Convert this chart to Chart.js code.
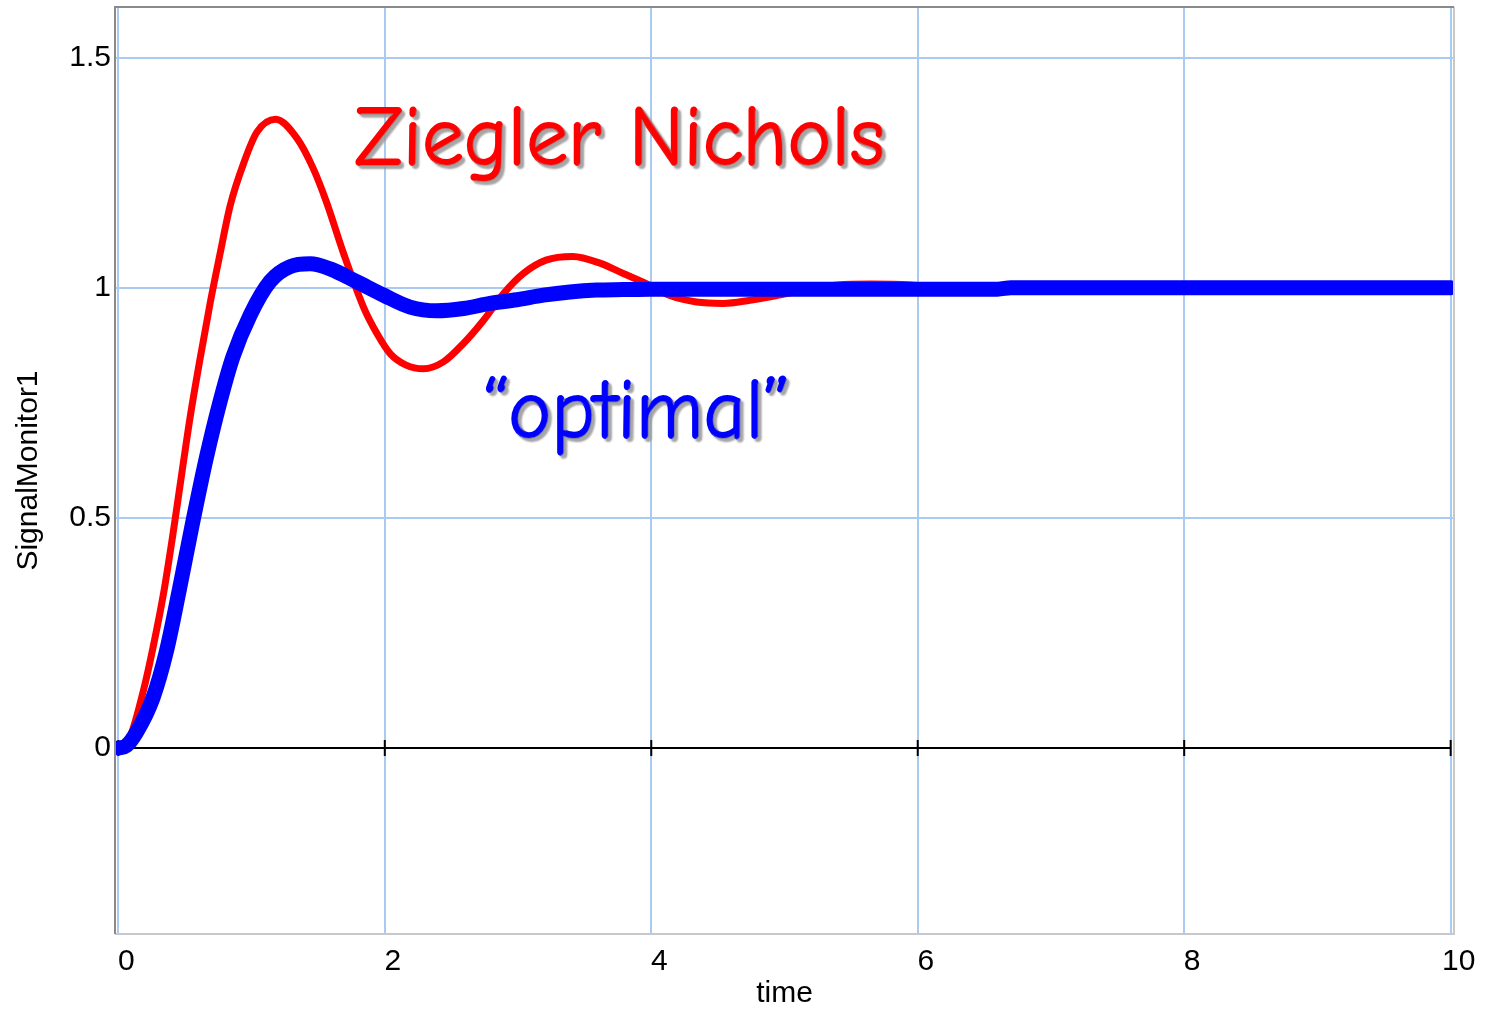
<!DOCTYPE html>
<html>
<head>
<meta charset="utf-8">
<title>Step response</title>
<script src="https://cdn.jsdelivr.net/npm/chart.js@4.4.1/dist/chart.umd.min.js"></script>
<style>
  html, body { margin: 0; padding: 0; background: #fff; }
  #wrap { width: 1492px; height: 1009px; position: relative; }
</style>
</head>
<body>
<div id="wrap"><canvas id="respCanvas"></canvas></div>
<script>
// ============================================
// PID tuning — closed-loop step response
// ============================================

// ── Ziegler–Nichols tuned loop ── //
const znTime = [0, 0.09, 0.19, 0.26, 0.34, 0.41, 0.47, 0.54, 0.61, 0.69, 0.76, 0.84, 0.94, 1.04,
  1.18, 1.34, 1.46, 1.56, 1.69, 1.84, 1.94, 2.04, 2.16, 2.29, 2.44, 2.59, 2.74, 2.89, 3.04,
  3.21, 3.41, 3.62, 3.79, 3.97, 4.14, 4.34, 4.54, 4.74, 4.94, 5.15, 5.40, 5.65, 5.95, 6.2,
  7, 8, 9, 10];
const znValue = [0, 0.026, 0.127, 0.218, 0.337, 0.465, 0.584, 0.721, 0.840, 0.968, 1.069, 1.179, 1.270, 1.338,
  1.366, 1.325, 1.261, 1.188, 1.075, 0.958, 0.901, 0.857, 0.832, 0.824, 0.839, 0.879, 0.929, 0.987, 1.031,
  1.060, 1.068, 1.053, 1.031, 1.008, 0.983, 0.969, 0.966, 0.973, 0.983, 0.995, 1.006, 1.008, 1.006, 1.0,
  1.0, 1.0, 1.0, 1.0];

// ── "optimal" tuned loop ── //
const optTime = [0, 0.06, 0.14, 0.26, 0.36, 0.46, 0.56, 0.66, 0.76, 0.86, 0.99, 1.14, 1.29, 1.44,
  1.59, 1.79, 1.99, 2.19, 2.39, 2.59, 2.79, 2.99, 3.19, 3.39, 3.59, 3.79, 3.99, 4.5, 5, 6,
  6.6, 6.7, 8, 10];
const optValue = [0, 0.005, 0.036, 0.109, 0.209, 0.347, 0.493, 0.630, 0.749, 0.850, 0.941, 1.014, 1.046, 1.052,
  1.041, 1.013, 0.984, 0.958, 0.950, 0.955, 0.966, 0.974, 0.984, 0.991, 0.995, 0.996, 0.997, 0.997, 0.997, 0.997,
  0.997, 1.0, 1.0, 1.0];

const xTicks = [0, 2, 4, 6, 8, 10];
const yTicks = [0, 0.5, 1, 1.5];

const znCaption = 'Ziegler Nichols';
const optCaption = '\u201Coptimal\u201D';

// ── Styles ── //
const GRID_BLUE = '#a9cbf2';
const AXIS_FONT = { family: "'Liberation Sans', Arial, sans-serif", size: 30 };
const HAND_FONT = "84px 'Comic Sans MS', 'Comic Neue', 'DejaVu Sans', sans-serif";

function toPoints(xs, ys) {
  return xs.map((x, i) => ({ x: x, y: ys[i] }));
}

// zero line with small tick marks, under the curves
const zeroLine = {
  id: 'zeroLine',
  beforeDatasetsDraw(chart) {
    const { ctx, scales: { x, y } } = chart;
    const y0 = y.getPixelForValue(0);
    ctx.save();
    ctx.strokeStyle = '#000';
    ctx.lineWidth = 2;
    ctx.beginPath();
    ctx.moveTo(x.getPixelForValue(xTicks[0]), y0);
    ctx.lineTo(x.getPixelForValue(xTicks[xTicks.length - 1]), y0);
    xTicks.forEach(v => {
      const px = x.getPixelForValue(v);
      ctx.moveTo(px, y0 - 8);
      ctx.lineTo(px, y0 + 8);
    });
    ctx.stroke();
    ctx.restore();
  }
};

// sunken frame round the plot area
const plotFrame = {
  id: 'plotFrame',
  afterDraw(chart) {
    const { ctx, chartArea: a } = chart;
    ctx.save();
    ctx.lineWidth = 2;
    ctx.strokeStyle = '#c8c8c8';
    ctx.beginPath();
    ctx.moveTo(a.left, a.bottom);
    ctx.lineTo(a.right, a.bottom);
    ctx.lineTo(a.right, a.top);
    ctx.stroke();
    ctx.strokeStyle = '#8a8a8a';
    ctx.beginPath();
    ctx.moveTo(a.left, a.bottom);
    ctx.lineTo(a.left, a.top);
    ctx.lineTo(a.right, a.top);
    ctx.stroke();
    ctx.restore();
  }
};

// hand-lettered captions next to each curve
const captions = {
  id: 'captions',
  afterDatasetsDraw(chart) {
    const { ctx, scales: { x, y } } = chart;
    const items = [
      { text: znCaption, t: 1.775, v: 1.266, width: 530, color: '#ff0000' },
      { text: optCaption, t: 2.74, v: 0.673, width: 307, color: '#0000ff' },
    ];
    ctx.save();
    ctx.font = HAND_FONT;
    ctx.textAlign = 'left';
    ctx.textBaseline = 'alphabetic';
    ctx.lineJoin = 'round';
    ctx.lineWidth = 2;
    ctx.shadowColor = 'rgba(150, 150, 150, 0.85)';
    ctx.shadowOffsetX = 3;
    ctx.shadowOffsetY = 3;
    ctx.shadowBlur = 2;
    items.forEach(it => {
      const px = x.getPixelForValue(it.t);
      const py = y.getPixelForValue(it.v);
      ctx.fillStyle = it.color;
      ctx.strokeStyle = it.color;
      ctx.strokeText(it.text, px, py, it.width);
      ctx.fillText(it.text, px, py, it.width);
    });
    ctx.restore();
  }
};

// drop the half-label padding chart.js reserves at the axis ends
function fixAxis(size) {
  return s => {
    if (s.isHorizontal()) {
      s.height = size;
      s.paddingLeft = 0;
      s.paddingRight = 0;
    } else {
      s.width = size;
      s.paddingTop = 0;
      s.paddingBottom = 0;
    }
  };
}

const respChart = new Chart(document.getElementById('respCanvas'), {
  type: 'line',
  data: {
    datasets: [
      {
        label: 'optimal',
        data: toPoints(optTime, optValue),
        borderColor: '#0000ff',
        borderWidth: 15,
      },
      {
        label: 'Ziegler Nichols',
        data: toPoints(znTime, znValue),
        borderColor: '#ff0000',
        borderWidth: 7,
      },
    ],
  },
  options: {
    responsive: true,
    maintainAspectRatio: false,
    animation: false,
    layout: { padding: { top: 7, right: 38, left: 0, bottom: 0 } },
    elements: {
      point: { radius: 0 },
      line: {
        cubicInterpolationMode: 'monotone',
        borderCapStyle: 'round',
        borderJoinStyle: 'round',
        fill: false,
      },
    },
    scales: {
      x: {
        type: 'linear',
        min: -0.025,
        max: 10.025,
        afterBuildTicks: s => { s.ticks = xTicks.map(v => ({ value: v })); },
        afterFit: fixAxis(75),
        grid: { color: GRID_BLUE, lineWidth: 2, drawTicks: false },
        border: { display: false },
        ticks: {
          color: '#000', font: AXIS_FONT, padding: 10, labelOffset: 8,
          maxRotation: 0, autoSkip: false, callback: v => String(v),
        },
        title: {
          display: true,
          text: 'time',
          color: '#000',
          font: { ...AXIS_FONT, lineHeight: 1 },
          padding: { top: 0, bottom: 0 },
        },
      },
      y: {
        type: 'linear',
        min: -0.404,
        max: 1.61,
        afterBuildTicks: s => { s.ticks = yTicks.map(v => ({ value: v })); },
        afterFit: fixAxis(115),
        grid: {
          color: c => (c.tick && c.tick.value === 0 ? 'rgba(0,0,0,0)' : GRID_BLUE),
          lineWidth: 2,
          drawTicks: false,
        },
        border: { display: false },
        ticks: { color: '#000', font: AXIS_FONT, padding: 4, callback: v => String(v) },
        title: {
          display: true,
          text: 'SignalMonitor1',
          color: '#000',
          font: { ...AXIS_FONT, lineHeight: 1 },
          padding: { top: 14, bottom: 0 },
        },
      },
    },
    plugins: {
      legend: { display: false },
      tooltip: { enabled: false },
    },
  },
  plugins: [zeroLine, captions, plotFrame],
});
</script>
</body>
</html>
